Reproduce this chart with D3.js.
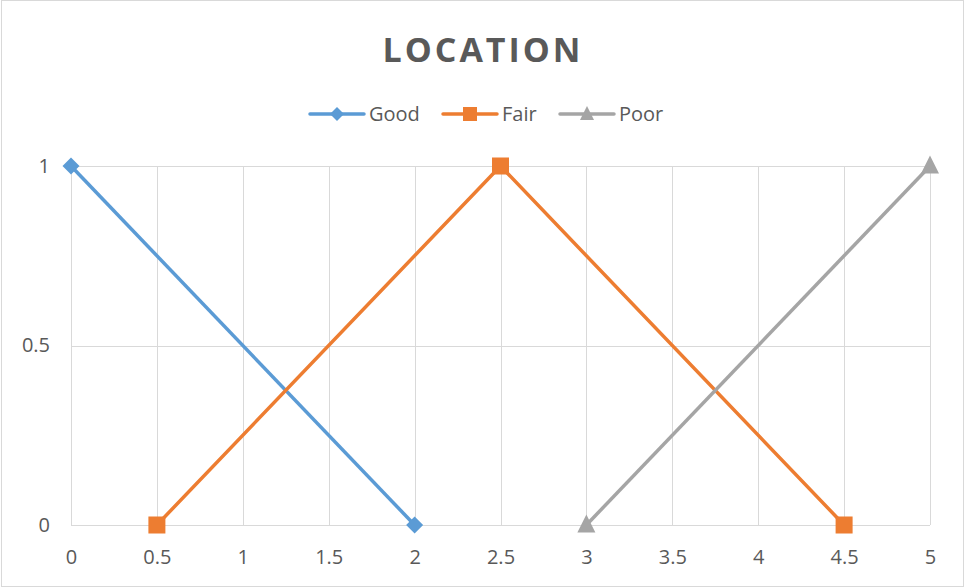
<!DOCTYPE html>
<html>
<head>
<meta charset="utf-8">
<script src="https://cdn.jsdelivr.net/npm/d3@7/dist/d3.min.js"></script>
<style>
  html, body { margin: 0; padding: 0; background: #fff; }
  svg { display: block; font-family: "Open Sans", "Liberation Sans", sans-serif; }
</style>
</head>
<body>
<svg id="chart" width="966" height="588"></svg>
<script>
// Membership functions for the LOCATION variable
const goodX = [0, 2];
const goodY = [1, 0];
const fairX = [0.5, 2.5, 4.5];
const fairY = [0, 1, 0];
const poorX = [3, 5];
const poorY = [0, 1];

const xTicks = [0, 0.5, 1, 1.5, 2, 2.5, 3, 3.5, 4, 4.5, 5];
const yTicks = [0, 0.5, 1];

const seriesNames = ["Good", "Fair", "Poor"];
const seriesColors = ["#5B9BD5", "#ED7D31", "#A5A5A5"];
const seriesMarkers = ["diamond", "square", "triangle"];

const svg = d3.select("#chart");
const W = 966, H = 588;

// outer chart border
svg.append("rect")
  .attr("x", 1.5).attr("y", 0.5)
  .attr("width", W - 4).attr("height", H - 2)
  .attr("fill", "#fff").attr("stroke", "#D9D9D9").attr("stroke-width", 1);

const x = d3.scaleLinear().domain([0, 5]).range([71, 930]);
const y = d3.scaleLinear().domain([0, 1]).range([525, 166]);

// gridlines
const grid = svg.append("g");
grid.selectAll("line.v").data(xTicks).join("line")
  .attr("x1", d => Math.round(x(d)) + 0.5).attr("x2", d => Math.round(x(d)) + 0.5)
  .attr("y1", y(1)).attr("y2", y(0))
  .attr("stroke", "#D9D9D9").attr("stroke-width", 1);
grid.selectAll("line.h").data(yTicks).join("line")
  .attr("x1", x(0)).attr("x2", x(5))
  .attr("y1", d => Math.round(y(d)) + 0.5).attr("y2", d => Math.round(y(d)) + 0.5)
  .attr("stroke", "#D9D9D9").attr("stroke-width", 1);

// axes (labels only)
const xAxis = svg.append("g")
  .attr("transform", `translate(0,${y(0)})`)
  .call(d3.axisBottom(x).tickValues(xTicks).tickSize(0).tickPadding(25).tickFormat(d3.format("")));
const yAxis = svg.append("g")
  .attr("transform", `translate(${x(0)},0)`)
  .call(d3.axisLeft(y).tickValues(yTicks).tickSize(0).tickPadding(21).tickFormat(d3.format("")));
[xAxis, yAxis].forEach(a => {
  a.select(".domain").remove();
  a.selectAll("text")
    .attr("fill", "#595959")
    .style("font-size", "20px")
    .style("font-family", "\"Open Sans\", \"Liberation Sans\", sans-serif");
});

// title
svg.append("text")
  .attr("x", 483).attr("y", 62)
  .attr("text-anchor", "middle")
  .attr("fill", "#595959")
  .style("font-size", "34px")
  .style("font-weight", "bold")
  .style("letter-spacing", "3px")
  .text("LOCATION");

// marker drawing
function marker(sel, type, color, size) {
  const r = size / 2;
  if (type === "diamond") {
    sel.append("path").attr("d", `M0,${-r}L${r},0L0,${r}L${-r},0Z`).attr("fill", color);
  } else if (type === "square") {
    sel.append("rect").attr("x", -r).attr("y", -r)
      .attr("width", size).attr("height", size).attr("fill", color);
  } else {
    sel.append("path")
      .attr("d", `M0,${-size * 0.58}L${r},${size * 0.42}L${-r},${size * 0.42}Z`)
      .attr("fill", color);
  }
}

const series = [
  { xs: goodX, ys: goodY },
  { xs: fairX, ys: fairY },
  { xs: poorX, ys: poorY }
];
const markerSize = [17, 17, 18];

const line = d3.line().x(d => x(d[0])).y(d => y(d[1]));

series.forEach((s, i) => {
  const pts = s.xs.map((v, j) => [v, s.ys[j]]);
  svg.append("path")
    .attr("d", line(pts))
    .attr("fill", "none")
    .attr("stroke", seriesColors[i])
    .attr("stroke-width", 3.5)
    .attr("stroke-linejoin", "round");
  pts.forEach(p => {
    const g = svg.append("g").attr("transform", `translate(${x(p[0])},${y(p[1])})`);
    marker(g, seriesMarkers[i], seriesColors[i], markerSize[i]);
  });
});

// legend
const legendX = [310, 443, 560];
const legendY = 114;
seriesNames.forEach((name, i) => {
  const g = svg.append("g").attr("transform", `translate(${legendX[i]},${legendY})`);
  g.append("line").attr("x1", 0).attr("x2", 54).attr("y1", 0).attr("y2", 0)
    .attr("stroke", seriesColors[i]).attr("stroke-width", 3.5).attr("stroke-linecap", "round");
  const m = g.append("g").attr("transform", "translate(27,0)");
  marker(m, seriesMarkers[i], seriesColors[i], 14);
  g.append("text").attr("x", 59).attr("y", 7)
    .attr("fill", "#595959")
    .style("font-size", "20px")
    .text(name);
});
</script>
</body>
</html>
